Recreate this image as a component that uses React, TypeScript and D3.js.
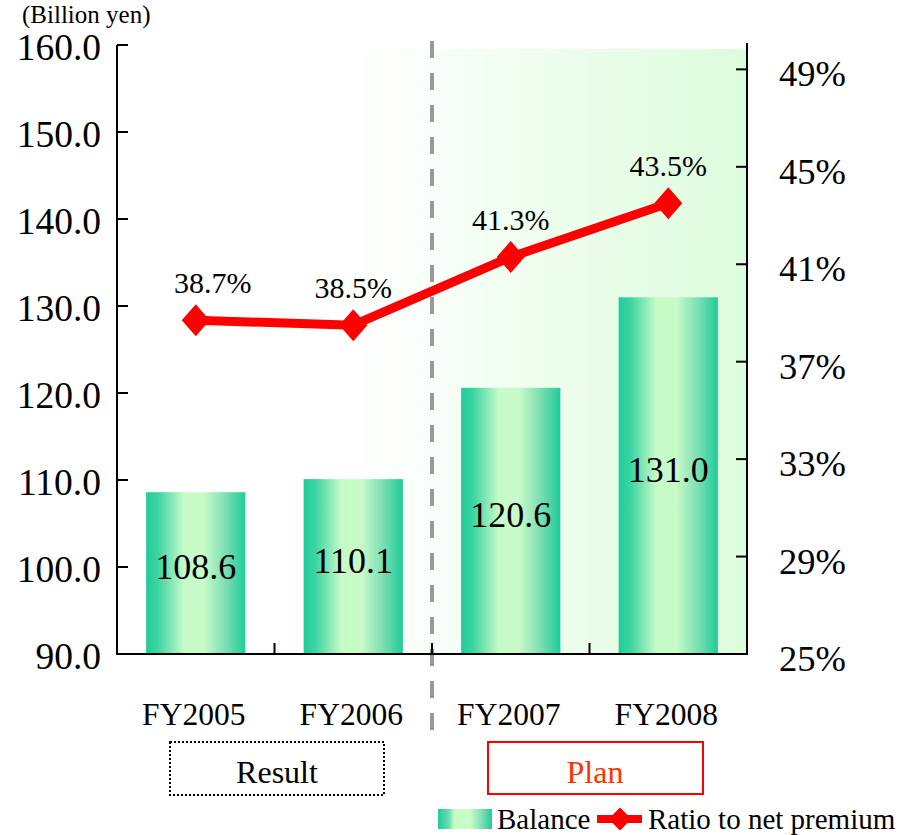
import React from "react";
import * as d3 from "d3";

// Fiscal years and their values
const categories = ["FY2005", "FY2006", "FY2007", "FY2008"];
const balance = [108.6, 110.1, 120.6, 131.0];
const ratio = [38.7, 38.5, 41.3, 43.5];
const leftTicks = [90, 100, 110, 120, 130, 140, 150, 160];
const rightTicks = [25, 29, 33, 37, 41, 45, 49];

const W = 899;
const H = 835;
const FONT = "'Liberation Serif', 'Times New Roman', serif";

const plot = { left: 117, right: 747, top: 45, bottom: 654 };

export default function App() {
  const x = d3
    .scaleBand<string>()
    .domain(categories)
    .range([plot.left, plot.right])
    .paddingInner(0.37)
    .paddingOuter(0.185);
  const step = x.step();
  const xStart = plot.left;
  const yL = d3.scaleLinear().domain([90, 160]).range([plot.bottom, plot.top]);
  const yR = d3.scaleLinear().domain([25, 50]).range([plot.bottom, plot.top]);

  const cx = (c: string) => (x(c) as number) + x.bandwidth() / 2;
  const line = d3
    .line<number>()
    .x((_, i) => cx(categories[i]))
    .y((d) => yR(d));

  const diamond = (px: number, py: number, hw: number, hh: number) =>
    `M${px},${py - hh}L${px + hw},${py}L${px},${py + hh}L${px - hw},${py}Z`;

  // boundary between result and plan years
  const dividerX = xStart + step * 2;
  const shadeStart = xStart + step * 1.46;

  return (
    <svg
      width={W}
      height={H}
      style={{ position: "absolute", left: 0, top: 0 }}
      fontFamily={FONT}
    >
      <defs>
        <linearGradient id="bg" x1="0" x2="1" y1="0" y2="0">
          <stop offset="0" stopColor="#ffffff" />
          <stop offset="1" stopColor="#ddfcdd" />
        </linearGradient>
        <linearGradient id="bar" x1="0" x2="1" y1="0" y2="0">
          <stop offset="0" stopColor="#1fcc98" />
          <stop offset="0.12" stopColor="#3dd4a2" />
          <stop offset="0.38" stopColor="#c6fbc8" />
          <stop offset="0.58" stopColor="#c8fbc8" />
          <stop offset="0.78" stopColor="#84e1b6" />
          <stop offset="1" stopColor="#1fcc98" />
        </linearGradient>
        <linearGradient id="legendBar" x1="0" x2="1" y1="0" y2="0">
          <stop offset="0" stopColor="#1fcc98" />
          <stop offset="0.2" stopColor="#6ddbb0" />
          <stop offset="0.3" stopColor="#c6fbc8" />
          <stop offset="0.6" stopColor="#c8fbc8" />
          <stop offset="0.8" stopColor="#84e1b6" />
          <stop offset="1" stopColor="#1fcc98" />
        </linearGradient>
      </defs>

      <rect x={0} y={0} width={W} height={H} fill="#fff" />

      {/* shaded plan region */}
      <rect
        x={shadeStart}
        y={plot.top + 4}
        width={plot.right - shadeStart}
        height={plot.bottom - plot.top - 4}
        fill="url(#bg)"
      />

      {/* bars */}
      {categories.map((c, i) => (
        <rect
          key={c}
          x={x(c)}
          y={yL(balance[i])}
          width={x.bandwidth()}
          height={yL(90) - yL(balance[i])}
          fill="url(#bar)"
        />
      ))}
      {categories.map((c, i) => (
        <text
          key={c}
          x={cx(c)}
          y={(yL(balance[i]) + yL(90)) / 2 + 6}
          fontSize={36}
          textAnchor="middle"
          fill="#000"
        >
          {balance[i].toFixed(1)}
        </text>
      ))}

      {/* divider */}
      <line
        x1={dividerX}
        x2={dividerX}
        y1={41}
        y2={741}
        stroke="#999"
        strokeWidth={4}
        strokeDasharray="17 15"
      />

      {/* axes */}
      <line x1={plot.left} x2={plot.left} y1={plot.top} y2={plot.bottom} stroke="#000" strokeWidth={2} />
      <line x1={plot.right} x2={plot.right} y1={plot.top - 2} y2={plot.bottom} stroke="#000" strokeWidth={2} />
      <line x1={plot.left - 1} x2={plot.right + 1} y1={plot.bottom} y2={plot.bottom} stroke="#000" strokeWidth={2} />
      {leftTicks.map((t) => (
        <g key={t}>
          <line x1={plot.left} x2={plot.left + 11} y1={yL(t)} y2={yL(t)} stroke="#000" strokeWidth={2} />
          <text x={101} y={yL(t) + 15} fontSize={37.5} textAnchor="end" fill="#000">
            {t.toFixed(1)}
          </text>
        </g>
      ))}
      {rightTicks.map((t) => (
        <g key={t}>
          <line x1={plot.right - 11} x2={plot.right} y1={yR(t)} y2={yR(t)} stroke="#000" strokeWidth={2} />
          <text x={779} y={yR(t) + 17} fontSize={36.5} textAnchor="start" fill="#000">
            {t}%
          </text>
        </g>
      ))}
      {[1, 2, 3].map((k) => (
        <line
          key={k}
          x1={xStart + step * k}
          x2={xStart + step * k}
          y1={plot.bottom}
          y2={plot.bottom - 11}
          stroke="#000"
          strokeWidth={2}
        />
      ))}
      {categories.map((c) => (
        <text key={c} x={cx(c) - 2} y={725} fontSize={31.5} textAnchor="middle" fill="#000">
          {c}
        </text>
      ))}

      <text x={22} y={23} fontSize={25} fill="#000">
        (Billion yen)
      </text>

      {/* ratio line */}
      <path d={line(ratio) || ""} fill="none" stroke="#ff0000" strokeWidth={9} strokeLinejoin="round" />
      {ratio.map((r, i) => (
        <path key={i} d={diamond(cx(categories[i]), yR(r), 14, 16)} fill="#ff0000" />
      ))}
      {ratio.map((r, i) => (
        <text
          key={i}
          x={cx(categories[i]) + (i === 0 ? 17 : 0)}
          y={yR(r) - 27}
          fontSize={30}
          textAnchor="middle"
          fill="#000"
        >
          {r.toFixed(1)}%
        </text>
      ))}

      {/* period boxes */}
      <rect x={170} y={742} width={214} height={53} fill="none" stroke="#000" strokeWidth={2} strokeDasharray="2 2" />
      <text x={277} y={783} fontSize={32} textAnchor="middle" fill="#000">
        Result
      </text>
      <rect x={488} y={742} width={215} height={52} fill="none" stroke="#ff0000" strokeWidth={2} />
      <text x={595} y={783} fontSize={32} textAnchor="middle" fill="#ff3300">
        Plan
      </text>

      {/* legend */}
      <rect x={438} y={809} width={54} height={20} fill="url(#legendBar)" />
      <text x={497} y={829} fontSize={29} fill="#000">
        Balance
      </text>
      <line x1={597} x2={642} y1={819} y2={819} stroke="#ff0000" strokeWidth={8} />
      <path d={diamond(620, 819, 11.5, 11.5)} fill="#ff0000" />
      <text x={648} y={829} fontSize={29} fill="#000">
        Ratio to net premium
      </text>
    </svg>
  );
}
